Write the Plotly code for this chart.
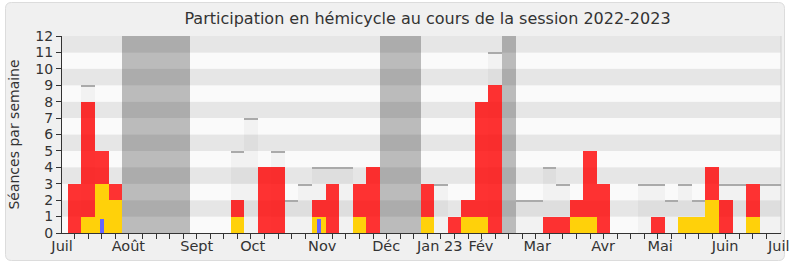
import plotly.graph_objects as go

# ---- data (weekly, session 2022-2023) ----
weeks = list(range(53))
presence = [3, 8, 5, 3, 0, 0, 0, 0, 0, 0, 0, 0, 2, 0, 4, 4, 0, 0, 2, 3, 0, 3, 4, 0, 0, 0,
            3, 0, 1, 2, 8, 9, 0, 0, 0, 1, 1, 2, 5, 3, 0, 0, 0, 1, 0, 1, 1, 4, 2, 0, 3, 0, 0]
interventions = [0, 1, 3, 2, 0, 0, 0, 0, 0, 0, 0, 0, 1, 0, 0, 0, 0, 0, 1, 0, 0, 1, 0, 0, 0, 0,
                 1, 0, 0, 1, 1, 0, 0, 0, 0, 0, 0, 1, 1, 0, 0, 0, 0, 0, 0, 1, 1, 2, 0, 0, 1, 0, 0]
questions = [0, 0, 0.85, 0, 0, 0, 0, 0, 0, 0, 0, 0, 0, 0, 0, 0, 0, 0, 0.85, 0, 0, 0, 0, 0, 0, 0,
             0, 0, 0, 0, 0, 0, 0, 0, 0, 0, 0, 0, 0, 0, 0, 0, 0, 0, 0, 0, 0, 0, 0, 0, 0, 0, 0]
seances = [0, 9, 0, 0, 0, 0, 0, 0, 0, 0, 0, 0, 5, 7, 0, 5, 2, 3, 4, 4, 4, 0, 0, 0, 0, 0,
           0, 3, 0, 0, 0, 11, 0, 2, 2, 4, 3, 0, 0, 0, 0, 0, 3, 3, 2, 3, 2, 0, 3, 3, 0, 3, 3]
vacances = [4, 5, 6, 7, 8, 23, 24, 25, 32]

month_labels = ["Juil", "Août", "Sept", "Oct", "Nov", "Déc", "Jan 23", "Fév",
                "Mar", "Avr", "Mai", "Juin", "Juil"]
month_pos = [-0.92, 3.96, 9.0, 13.13, 18.25, 22.97, 26.91, 29.95,
             34.1, 38.96, 43.16, 47.95, 51.9]

y_max = 12
x_range = [-0.93, 52.07]

# ---- layout constants ----
W, H = 790, 267
ML, MR, MT, MB = 62, 9, 36, 34
FONT = "DejaVu Sans"

fig = go.Figure()

vac_y = [y_max if w in vacances else None for w in weeks]
fig.add_bar(x=weeks, y=vac_y, width=1, marker=dict(color="rgba(0,0,0,0.25)", line_width=0),
            name="Vacances", hoverinfo="skip")

s_y = [s if s > 0 else None for s in seances]
fig.add_bar(x=weeks, y=s_y, width=1, marker=dict(color="rgba(0,0,0,0.03)", line_width=0),
            name="Séances")
lw = 0.08
s_line = [lw if s > 0 else None for s in seances]
s_base = [s - lw if s > 0 else None for s in seances]
fig.add_bar(x=weeks, y=s_line, base=s_base, width=1,
            marker=dict(color="#aaaaaa", line_width=0), hoverinfo="skip", showlegend=False)

fig.add_bar(x=weeks, y=[v if v > 0 else None for v in presence], width=1,
            marker=dict(color="rgba(255,0,0,0.8)", line_width=0), name="Présences")
fig.add_bar(x=weeks, y=[v if v > 0 else None for v in interventions], width=1,
            marker=dict(color="#FFD10A", line_width=0), name="Interventions")
fig.add_bar(x=weeks, y=[v if v > 0 else None for v in questions], width=0.28,
            marker=dict(color="#6666FF", line_width=0), name="Questions")

shapes = []
# outer rounded panel
pw = W - ML - MR
ph = H - MT - MB
def px2x(p):
    return (p - ML) / pw
def py2y(p):
    return (H - MB - p) / ph
x0, x1, y0, y1 = px2x(5.5), px2x(784.5), py2y(2.5), py2y(260.5)
rx, ry = 6 / pw, 6 / ph
path = (f"M {x0+rx},{y0} L {x1-rx},{y0} Q {x1},{y0} {x1},{y0-ry} "
        f"L {x1},{y1+ry} Q {x1},{y1} {x1-rx},{y1} L {x0+rx},{y1} Q {x0},{y1} {x0},{y1+ry} "
        f"L {x0},{y0-ry} Q {x0},{y0} {x0+rx},{y0} Z")
shapes.append(dict(type="path", path=path, xref="paper", yref="paper",
                   fillcolor="#f0f0f0", line=dict(color="#dcdcdc", width=1), layer="below"))
# alternating bands
for k in range(y_max):
    shapes.append(dict(type="rect", xref="x domain", yref="y", x0=0, x1=1, y0=k, y1=k + 1,
                       fillcolor="#e6e6e6" if k % 2 == 1 else "#fafafa",
                       line_width=0, layer="below"))
shapes.append(dict(type="line", xref="x domain", yref="y domain", x0=1, x1=1, y0=0, y1=1,
                   line=dict(color="#d2d2d2", width=1), layer="below"))

fig.update_layout(
    width=W, height=H, margin=dict(l=ML, r=MR, t=MT, b=MB, autoexpand=False),
    paper_bgcolor="white", plot_bgcolor="rgba(0,0,0,0)",
    barmode="overlay", bargap=0, showlegend=False,
    font=dict(family=FONT, size=14, color="#333333"),
    title=dict(text="Participation en hémicycle au cours de la session 2022-2023",
               x=px2x(427.5), xref="paper", xanchor="center",
               y=(H - 18) / H, yref="container", yanchor="middle",
               font=dict(family=FONT, size=16, color="#333333")),
    shapes=shapes,
    xaxis=dict(range=x_range, tickvals=month_pos, ticktext=month_labels, ticks="",
               automargin=False,
               showline=True, linecolor="#333333", linewidth=1, showgrid=False, zeroline=False,
               tickfont=dict(size=14.5, color="#333333"),
               minor=dict(tickvals=weeks[:52], ticks="outside", ticklen=5,
                          tickcolor="#333333", tickwidth=1, showgrid=False)),
    xaxis2=dict(range=x_range, overlaying="x", side="top", anchor="y", automargin=False,
                tickvals=weeks[:52], ticks="outside", ticklen=2, tickcolor="#444444",
                showticklabels=False, showline=False, showgrid=False, zeroline=False),
    yaxis=dict(range=[0, y_max], tickvals=list(range(y_max + 1)), ticks="outside",
               automargin=False,
               ticklen=5, tickcolor="#333333", showline=True, linecolor="#333333",
               linewidth=1, showgrid=False, zeroline=False,
               tickfont=dict(size=14, color="#333333"),
               title=dict(text="Séances par semaine", font=dict(size=14, color="#333333"),
                          standoff=12)),
)

fig.write_html("out.html")
